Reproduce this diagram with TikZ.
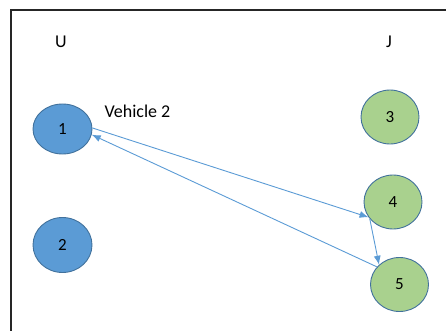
\documentclass[tikz,border=0pt]{standalone}
\usepackage{fontspec}
\setmainfont{Carlito}
\usetikzlibrary{shapes.geometric,arrows.meta}
\definecolor{ublue}{HTML}{5B9BD5}
\definecolor{jgreen}{HTML}{A9D18E}
\definecolor{edgeb}{HTML}{41719C}
\definecolor{arr}{HTML}{5B9BD5}
\tikzset{
  unode/.style={ellipse, draw=edgeb, line width=0.9pt, fill=ublue, inner sep=0pt, minimum width=59pt, font=\fontsize{17}{19}\selectfont},
  jnode/.style={ellipse, draw=edgeb, line width=0.9pt, fill=jgreen, inner sep=0pt, minimum width=58pt, minimum height=54pt, font=\fontsize{17}{19}\selectfont},
  lbl/.style={font=\fontsize{18}{20}\selectfont, inner sep=0pt},
  conn/.style={draw=arr, line width=0.9pt, -{Latex[length=9pt,width=7pt]}}
}
\begin{document}
\begin{tikzpicture}[x=1pt,y=-1pt]
\useasboundingbox (0,0) rectangle (446,331);
\draw[black!85, line width=1.1pt] (11,331) -- (11,10) -- (446,10);
\node[lbl] (U) at (61,42) {U};
\node[lbl] (J) at (389,42) {J};
\node[lbl] (veh) at (137.5,111) {Vehicle 2};
\node[unode, minimum height=50pt] (n1) at (62.5,129) {1};
\node[unode, minimum height=55pt] (n2) at (62.5,245) {2};
\node[jnode] (n3) at (390,117) {3};
\node[jnode] (n4) at (393,202) {4};
\node[jnode] (n5) at (399.5,284.5) {5};
\draw[conn] (n1.2) -- (n4.212);
\draw[conn] (n5.142) -- (n1.349);
\draw[conn] (n4.216) -- (n5.136);
\end{tikzpicture}
\end{document}
